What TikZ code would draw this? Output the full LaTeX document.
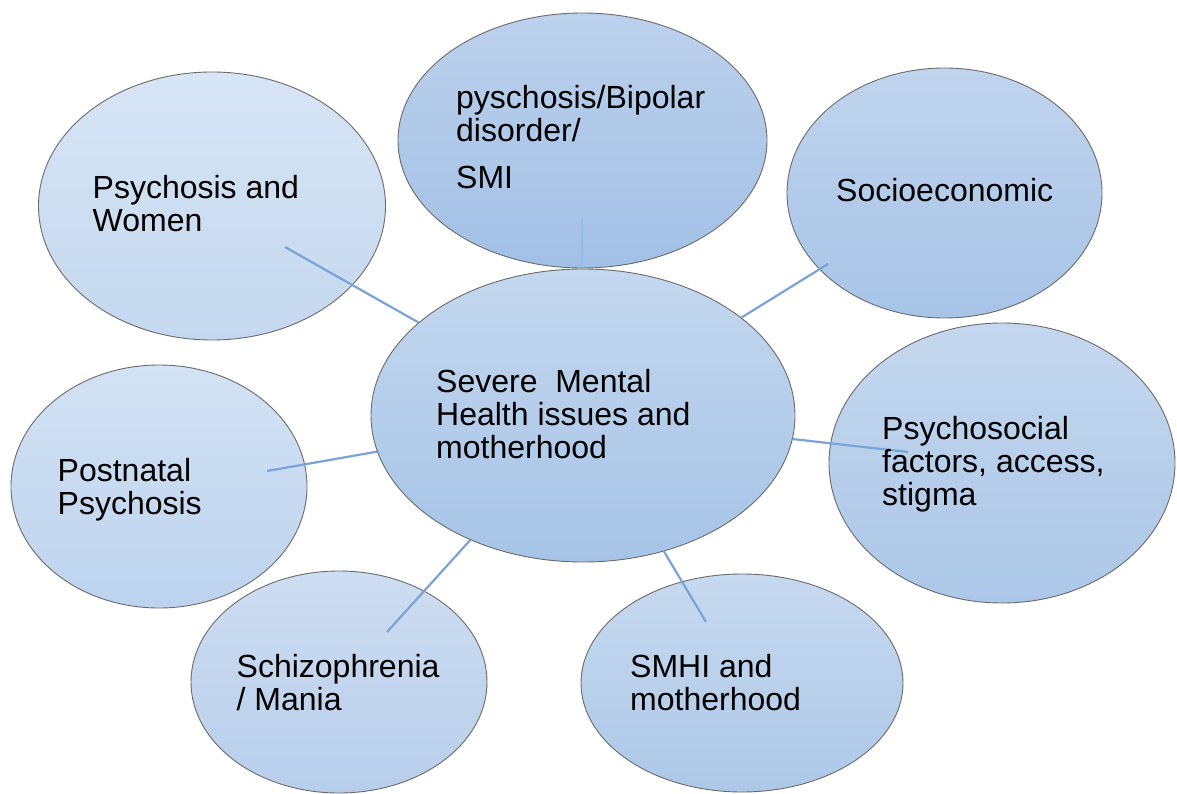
\documentclass[tikz,border=0pt]{standalone}
\usepackage{fontspec}
\setmainfont{Liberation Sans}
\usetikzlibrary{shapes.geometric}

\definecolor{linkblue}{HTML}{78A4D8}
\definecolor{stemblue}{HTML}{8FB3DD}

\begin{document}
\begin{tikzpicture}[x=1pt,y=-1pt,
  bubble/.style={ellipse, draw=black!58, line width=0.9pt, inner sep=0pt},
  link/.style={draw=linkblue, line width=2.2pt},
  % labels are placed by the baseline of their last line
  bubbletext/.style={anchor=base west, align=left, inner sep=0pt,
    font=\fontsize{32}{33}\selectfont}
]
\useasboundingbox (0,0) rectangle (1177,794);
\fill[white] (0,0) rectangle (1177,794);

% outer topic bubbles
\node[bubble, minimum width=347pt, minimum height=268pt,
  top color={rgb,255:red,215;green,229;blue,245},
  bottom color={rgb,255:red,197;green,216;blue,239}] (pw) at (212,206) {};
\node[bubble, minimum width=369pt, minimum height=255pt,
  top color={rgb,255:red,188;green,209;blue,236},
  bottom color={rgb,255:red,162;green,192;blue,230}] (smi) at (582.5,140.5) {};
\node[bubble, minimum width=315pt, minimum height=250pt,
  top color={rgb,255:red,192;green,212;blue,237},
  bottom color={rgb,255:red,167;green,196;blue,231}] (soc) at (944.5,193) {};
\node[bubble, minimum width=346pt, minimum height=280pt,
  top color={rgb,255:red,196;green,215;blue,238},
  bottom color={rgb,255:red,172;green,199;blue,232}] (psy) at (1002,463) {};
\node[bubble, minimum width=296pt, minimum height=243pt,
  top color={rgb,255:red,211;green,226;blue,244},
  bottom color={rgb,255:red,189;green,211;blue,238}] (pn) at (159,486.5) {};
\node[bubble, minimum width=296pt, minimum height=222pt,
  top color={rgb,255:red,206;green,221;blue,241},
  bottom color={rgb,255:red,183;green,206;blue,235}] (sch) at (339,682) {};
\node[bubble, minimum width=322pt, minimum height=218pt,
  top color={rgb,255:red,199;green,217;blue,239},
  bottom color={rgb,255:red,173;green,200;blue,232}] (smhi) at (742,683) {};

% central bubble
\node[bubble, minimum width=424pt, minimum height=293pt,
  top color={rgb,255:red,196;green,215;blue,238},
  bottom color={rgb,255:red,166;green,196;blue,231}] (core) at (583,415.5) {};

% free ends of the spokes, inside the outer bubbles
\coordinate (e-pw) at (285,247);
\coordinate (e-smi) at (582,218);
\coordinate (e-soc) at (828,264);
\coordinate (e-psy) at (908,452);
\coordinate (e-pn) at (267,471);
\coordinate (e-sch) at (387,632);
\coordinate (e-smhi) at (706,622);

% spokes to the central bubble
\draw[link] (e-pw) -- (core);
\draw[stemblue, line width=1pt] (e-smi) -- (core);
\draw[link] (e-soc) -- (core);
\draw[link] (e-psy) -- (core);
\draw[link] (e-pn) -- (core);
\draw[link] (e-sch) -- (core);
\draw[link] (e-smhi) -- (core);

% labels
\node[bubbletext] (t-pw) at (92.5,231.5) {Psychosis and\\Women};
\node[bubbletext] (t-smi) at (456,189) {pyschosis/Bipolar\\disorder/\\[14pt]SMI};
\node[bubbletext] (t-soc) at (836,202) {Socioeconomic};
\node[bubbletext] (t-core) at (436,458.5) {Severe\ \ Mental\\Health issues and\\motherhood};
\node[bubbletext] (t-psy) at (882,505) {Psychosocial\\factors, access,\\stigma};
\node[bubbletext] (t-pn) at (57.5,514) {Postnatal\\Psychosis};
\node[bubbletext] (t-sch) at (236.5,710) {Schizophrenia\\/ Mania};
\node[bubbletext] (t-smhi) at (630,710) {SMHI and\\motherhood};
\end{tikzpicture}
\end{document}
